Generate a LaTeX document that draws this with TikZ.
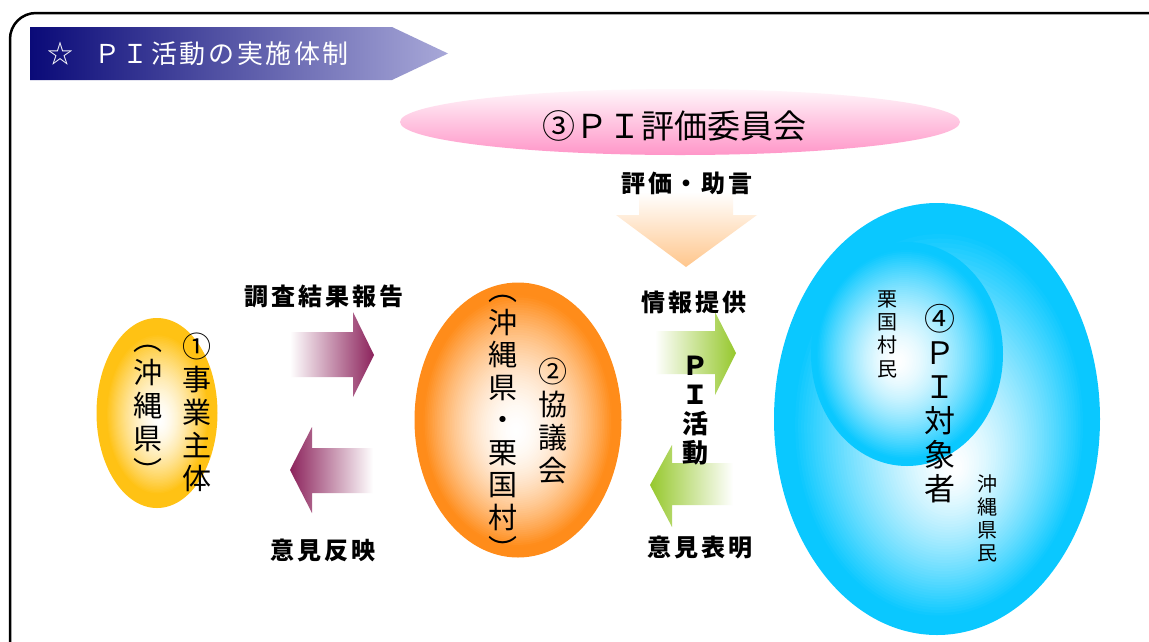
\documentclass[tikz,border=0pt]{standalone}
\usepackage{fontspec}
\setmainfont{Noto Sans CJK JP}
\newfontfamily\lbfont[LetterSpace=12]{Noto Sans CJK JP}
\newfontfamily\ttlfont[LetterSpace=10]{Noto Sans CJK JP}
\definecolor{gold1}{RGB}{255,194,20}
\definecolor{orng}{RGB}{255,140,26}
\definecolor{cyanb}{RGB}{10,200,255}
\definecolor{maroon1}{RGB}{140,35,92}
\definecolor{grn}{RGB}{150,200,45}
\definecolor{peach}{RGB}{255,198,140}
\definecolor{pink1}{RGB}{255,150,200}
\definecolor{navy1}{RGB}{10,10,120}
\definecolor{lav}{RGB}{168,168,216}
\tikzset{
  lbl/.style={inner sep=0pt, font=\lbfont\bfseries\fontsize{24}{26}\selectfont},
  vcol/.style={inner sep=0pt, align=center},
}
% radial gradient made of concentric ellipses
% #1 cx, #2 cy, #3 rx, #4 ry, #5 dx, #6 dy of white core, #7 colour, #8 radius fraction where colour is full, #9 exponent
\newcommand\blobdraw[9]{%
  \foreach \i in {60,...,1}{%
    \pgfmathsetmacro\rr{\i/60}%
    \pgfmathsetmacro\qq{min(1,\rr/#8)}%
    \pgfmathsetmacro\pp{min(100,100*pow(\qq,#9))}%
    \fill[#7!\pp!white] ({#1+(1-\rr)*(#5)},{#2+(1-\rr)*(#6)}) ellipse [x radius={\rr*#3}, y radius={\rr*#4}];
  }}
\begin{document}
\begin{tikzpicture}[x=1pt,y=1pt]
\useasboundingbox (0,0) rectangle (1149,-641);
\fill[white] (0,0) rectangle (1149,-641);
% frame
\draw[line width=2.5pt, rounded corners=26pt] (10,-13) rectangle (1175,-668);
% title banner
\shade[left color=navy1, right color=lav] (30,-27) -- (392,-27) -- (448,-53.5) -- (392,-80) -- (30,-80) -- cycle;
\node[inner sep=0pt, text=white, font=\fontsize{26}{28}\selectfont] (star) at (60,-54) {☆};
\node[anchor=west, inner sep=0pt, text=white, font=\ttlfont\fontsize{26}{28}\selectfont] (title) at (94,-54) {ＰＩ活動の実施体制};
% PI committee
\shade[top color=pink1!8!white, bottom color=pink1, middle color=pink1!55!white] (680,-122) ellipse [x radius=280, y radius=33];
\node[inner sep=0pt, font=\fontsize{33}{34}\selectfont] (c3t) at (674,-126) {③ＰＩ評価委員会};
% down arrow
\shade[top color=white, bottom color=peach] (639,-192) -- (733,-192) -- (733,-215) -- (757,-215) -- (686,-267) -- (616,-215) -- (639,-215) -- cycle;
\node[lbl] (adv) at (687,-183) {評価・助言};
% ellipse 1
\coordinate (c1) at (157,-413);
\blobdraw{157}{-413}{60.5}{95}{3}{-8}{gold1}{0.85}{1.6}
\node[vcol, font=\fontsize{29}{33}\selectfont] (c1a) at (197,-412) {①\\事\\業\\主\\体};
\node[vcol, font=\fontsize{29}{33}\selectfont] (c1b) at (148,-414) {︵\\沖\\縄\\県\\︶};
% maroon arrows
\shade[left color=white, right color=maroon1] (290,-332) -- (353,-332) -- (353,-312) -- (374,-355) -- (353,-397) -- (353,-377) -- (290,-377) -- cycle;
\shade[left color=maroon1, right color=white] (373,-448) -- (312,-448) -- (312,-427) -- (290,-470) -- (312,-513) -- (312,-493) -- (373,-493) -- cycle;
\node[lbl] (rep) at (324,-296) {調査結果報告};
\node[lbl] (ref) at (323,-550) {意見反映};
% ellipse 2
\coordinate (c2) at (518,-420);
\blobdraw{518}{-420}{103.5}{137.5}{-2}{-12}{orng}{0.92}{1.8}
\node[vcol, font=\fontsize{29}{33}\selectfont] (c2a) at (553,-421) {②\\協\\議\\会};
\node[vcol, font=\fontsize{29}{32.5}\selectfont] (c2b) at (503,-428) {︵\\沖\\縄\\県\\・\\栗\\国\\村\\︶};
% green arrows
\shade[left color=white, right color=grn] (655,-331) -- (715,-331) -- (715,-312) -- (736,-353) -- (715,-395) -- (715,-374) -- (655,-374) -- cycle;
\shade[left color=grn, right color=white] (733,-463) -- (672,-463) -- (672,-445) -- (650,-485) -- (672,-527) -- (672,-505) -- (733,-505) -- cycle;
\node[lbl] (info) at (694,-302) {情報提供};
\node[lbl] (opin) at (700,-547) {意見表明};
\node[vcol, font=\bfseries\fontsize{26}{29}\selectfont] (pia) at (695,-411) {Ｐ\\Ｉ\\活\\動};
% blue ellipses
\coordinate (c4) at (937,-419);
\blobdraw{937}{-419}{163}{216}{18}{-50}{cyanb}{0.9}{1.4}
\coordinate (c4i) at (907,-354);
\blobdraw{907}{-354}{96}{112}{-10}{-8}{cyanb}{0.94}{1.6}
\node[vcol, font=\fontsize{31}{34}\selectfont] (c4t) at (940,-404) {④\\Ｐ\\Ｉ\\対\\象\\者};
\node[vcol, font=\fontsize{20}{23.3}\selectfont] (v1) at (887,-334) {栗\\国\\村\\民};
\node[vcol, font=\fontsize{20}{23}\selectfont] (v2) at (987,-518) {沖\\縄\\県\\民};
\end{tikzpicture}
\end{document}
